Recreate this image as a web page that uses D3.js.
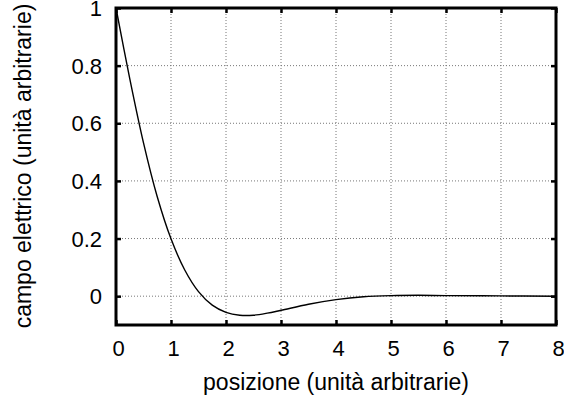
<!DOCTYPE html>
<html><head><meta charset="utf-8">
<script src="https://cdn.jsdelivr.net/npm/d3@7"></script>
<style>
body{margin:0;background:#fff;}
text{font-family:"Liberation Sans",Arial,Helvetica,sans-serif;fill:#000;}
</style></head><body>
<svg id="c" width="564" height="403"></svg>
<script>
const posX = [0,0.25,0.5,0.75,1.0,1.25,1.5,1.75,2.0,2.25,2.5,2.75,3.0,3.5,4.0,4.5,5.0,5.5,6.0,7.0,8.0];
const campo = [1.0,0.755,0.532,0.345,0.199,0.091,0.016,-0.031,-0.056,-0.066,-0.066,-0.059,-0.049,-0.028,-0.012,-0.002,0.002,0.003,0.002,0.001,0.0];
const xTicks = [0,1,2,3,4,5,6,7,8];
const yTicks = [0,0.2,0.4,0.6,0.8,1];
const xTitle = "posizione (unità arbitrarie)";
const yTitle = "campo elettrico (unità arbitrarie)";

const svg = d3.select("#c");
const L=116, R=556, T=8, B=325;
const x = d3.scaleLinear().domain([0,8]).range([L,R]);
const y = d3.scaleLinear().domain([-0.1,1]).range([B,T]);

// grid
const g = svg.append("g");
g.selectAll(".gx").data(xTicks.filter(d=>d>0&&d<8)).join("line")
  .attr("x1",d=>x(d)).attr("x2",d=>x(d)).attr("y1",T).attr("y2",B)
  .attr("stroke","#777").attr("stroke-width",1).attr("stroke-dasharray","1,2");
g.selectAll(".gy").data(yTicks.filter(d=>d<1)).join("line")
  .attr("y1",d=>y(d)).attr("y2",d=>y(d)).attr("x1",L).attr("x2",R)
  .attr("stroke","#777").attr("stroke-width",1).attr("stroke-dasharray","1,2");

// axes with inner ticks
const fs = 22, tfs = 23;
const ax = svg.append("g").attr("transform",`translate(0,${B})`)
  .call(d3.axisBottom(x).tickValues(xTicks).tickFormat(d3.format("d")).tickSizeInner(-5).tickSizeOuter(0).tickPadding(15));
const axT = svg.append("g").attr("transform",`translate(0,${T})`)
  .call(d3.axisTop(x).tickValues(xTicks).tickFormat("").tickSizeInner(-5).tickSizeOuter(0));
const ay = svg.append("g").attr("transform",`translate(${L},0)`)
  .call(d3.axisLeft(y).tickValues(yTicks).tickFormat(d=>d3.format("")(+d.toFixed(1))).tickSizeInner(-5).tickSizeOuter(0).tickPadding(14));
const ayR = svg.append("g").attr("transform",`translate(${R},0)`)
  .call(d3.axisRight(y).tickValues(yTicks).tickFormat("").tickSizeInner(-5).tickSizeOuter(0));
[ax,axT,ay,ayR].forEach(a=>{
  a.select(".domain").remove();
  a.selectAll(".tick line").attr("stroke","#000").attr("stroke-width",2.5);
  a.selectAll("text").style("font-size",fs+"px").style("font-family","Liberation Sans, Arial, sans-serif").attr("fill","#000");
});
ax.selectAll("text").attr("dx","2");
ay.selectAll("text").attr("dy","0.35em");

// curve
const line = d3.line().x((d,i)=>x(posX[i])).y(d=>y(d)).curve(d3.curveCatmullRom.alpha(0.5));
svg.append("path").datum(campo).attr("d",line).attr("fill","none").attr("stroke","#000").attr("stroke-width",1.4);

// frame
svg.append("rect").attr("x",L).attr("y",T).attr("width",R-L).attr("height",B-T)
  .attr("fill","none").attr("stroke","#000").attr("stroke-width",3);

// titles
svg.append("text").attr("x",(L+R)/2).attr("y",390).attr("text-anchor","middle").style("font-size",tfs+"px").text(xTitle);
svg.append("text").attr("transform",`translate(31,${166}) rotate(-90)`).attr("text-anchor","middle").style("font-size",tfs+"px").text(yTitle);
</script></body></html>
